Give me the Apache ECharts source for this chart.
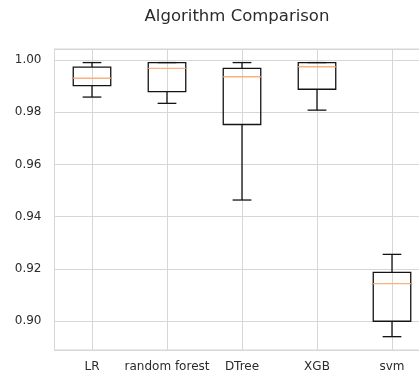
<!DOCTYPE html>
<html>
<head>
    <meta charset="utf-8">
    <title>Algorithm Comparison</title>
    <script src="https://cdn.jsdelivr.net/npm/echarts@6/dist/echarts.min.js"></script>
</head>
<body style="margin:0;background:#fff;">
<div id="main" style="width:419px;height:376px;"></div>
<script type="text/javascript">
    // cross-validation accuracy per model
    var names = ['LR', 'random forest', 'DTree', 'XGB', 'svm'];
    var whiskerLow = [0.9858, 0.9834, 0.9464, 0.9808, 0.8941];
    var q1 = [0.9902, 0.9879, 0.9753, 0.9888, 0.9000];
    var median = [0.9930, 0.9968, 0.9936, 0.9974, 0.9144];
    var q3 = [0.9973, 0.9990, 0.9968, 0.9990, 0.9187];
    var whiskerHigh = [0.9990, 0.9990, 0.9990, 0.9990, 0.9256];

    var boxData = names.map(function (n, i) {
        return [i, whiskerLow[i], q1[i], median[i], q3[i], whiskerHigh[i]];
    });

    var gridColor = '#d6d6d6';
    var textColor = '#2b2b2b';
    var font = 'DejaVu Sans';

    // matplotlib style box: half band wide box, quarter band caps, orange median
    function renderBox(params, api) {
        var i = api.value(0);
        var lo = api.coord([i, api.value(1)]);
        var b1 = api.coord([i, api.value(2)]);
        var md = api.coord([i, api.value(3)]);
        var b3 = api.coord([i, api.value(4)]);
        var hi = api.coord([i, api.value(5)]);
        var band = api.size([1, 0])[0];
        var hw = band * 0.25;
        var cw = band * 0.125;
        var cx = lo[0];
        var ls = {stroke: '#141414', lineWidth: 1.3, fill: null};
        return {
            type: 'group',
            children: [
                {type: 'line', shape: {x1: cx, y1: hi[1], x2: cx, y2: b3[1]}, style: ls},
                {type: 'line', shape: {x1: cx, y1: b1[1], x2: cx, y2: lo[1]}, style: ls},
                {type: 'line', shape: {x1: cx - cw, y1: hi[1], x2: cx + cw, y2: hi[1]}, style: ls},
                {type: 'line', shape: {x1: cx - cw, y1: lo[1], x2: cx + cw, y2: lo[1]}, style: ls},
                {type: 'rect', shape: {x: cx - hw, y: b3[1], width: hw * 2, height: b1[1] - b3[1]}, style: ls},
                {type: 'line', shape: {x1: cx - hw, y1: md[1], x2: cx + hw, y2: md[1]},
                    style: {stroke: '#fbb07e', lineWidth: 1.4}}
            ]
        };
    }

    var myChart = echarts.init(document.getElementById('main'));
    var option = {
        backgroundColor: '#ffffff',
        animation: false,
        title: {
            text: 'Algorithm Comparison',
            left: 232,
            top: 3,
            textAlign: 'center',
            textStyle: {fontFamily: font, fontSize: 16.5, fontWeight: 'normal', color: textColor}
        },
        grid: {
            left: 54.5,
            right: -10.5,
            top: 49,
            bottom: 26,
            outerBoundsMode: 'none',
            show: true,
            borderColor: gridColor,
            borderWidth: 1
        },
        xAxis: {
            type: 'category',
            data: names,
            boundaryGap: true,
            axisLine: {show: true, lineStyle: {color: gridColor}},
            axisTick: {show: true, inside: true, length: 301, alignWithLabel: true,
                lineStyle: {color: gridColor}},
            axisLabel: {interval: 0, hideOverlap: false, margin: 11, fontFamily: font, fontSize: 12, color: textColor},
            splitLine: {show: false}
        },
        yAxis: {
            type: 'value',
            min: 0.889,
            max: 1.0042,
            splitNumber: 5,
            axisLine: {show: true, lineStyle: {color: gridColor}},
            axisTick: {show: false},
            axisLabel: {
                margin: 13, fontFamily: font, fontSize: 12, color: textColor,
                showMinLabel: false, showMaxLabel: false,
                formatter: function (v) { return v.toFixed(2); }
            },
            splitLine: {show: true, lineStyle: {color: gridColor, width: 1}}
        },
        series: [{
            type: 'custom',
            renderItem: renderBox,
            data: boxData,
            encode: {x: 0, y: [1, 2, 3, 4, 5]},
            clip: false
        }]
    };
    myChart.setOption(option);
</script>
</body>
</html>
